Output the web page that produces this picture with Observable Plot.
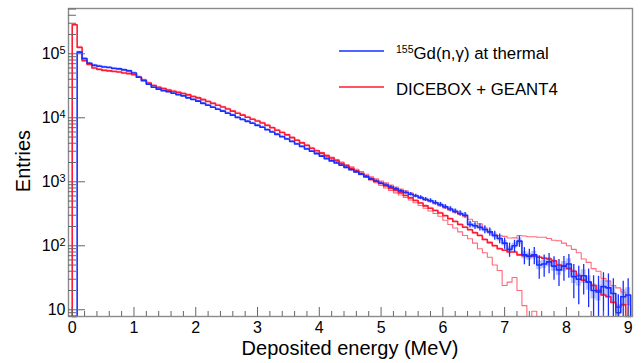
<!DOCTYPE html>
<html><head><meta charset="utf-8">
<script src="https://cdn.jsdelivr.net/npm/d3@7"></script>
<script src="https://cdn.jsdelivr.net/npm/@observablehq/plot@0.6"></script>
<style>html,body{margin:0;padding:0;background:#fff;} svg{display:block}</style>
</head><body><div id="chart"></div>
<script>
// Histogram binning (MeV)
const binWidth = 0.08;
const xDomain = [-0.06, 9.07];
const yDomain = [7.85, 5.1e5];

// 155Gd(n,gamma) at thermal (measured), one value per bin starting at 0 MeV
const blue = [
  0, 106000, 84000, 71000, 66000, 64000, 62000, 61000, 59000, 58000,
  56000, 54000, 50000, 43000, 38000, 33500, 30000, 28000, 26500, 25500,
  24200, 23000, 22000, 20500, 19300, 18200, 16800, 15700, 14600, 13600,
  12700, 11800, 11000, 10100, 9400, 8800, 8200, 7600, 7100, 6500,
  6000, 5500, 5050, 4650, 4250, 3900, 3550, 3250, 3000, 2750,
  2520, 2300, 2120, 1960, 1810, 1670, 1540, 1420, 1310, 1200,
  1100, 1020, 950, 890, 830, 775, 720, 680, 640, 600,
  565, 530, 505, 470, 440, 405, 375, 345, 320, 300,
  215, 205, 195, 180, 165, 145, 130, 110, 88, 100,
  118, 72, 68, 72, 50, 52, 56, 48, 42, 48,
  52, 33, 30, 34, 27, 20, 19, 23, 22, 18,
  9, 16, 17
];
// relative error bars of the measurement
const blueErr = [
  0, .01, .01, .01, .01, .01, .01, .01, .01, .01,
  .01, .01, .01, .01, .01, .01, .01, .01, .01, .01,
  .012, .012, .012, .012, .012, .012, .012, .012, .012, .012,
  .015, .015, .015, .015, .015, .015, .015, .015, .015, .015,
  .02, .02, .02, .02, .02, .02, .02, .02, .02, .02,
  .025, .025, .03, .03, .03, .035, .035, .035, .04, .04,
  .04, .045, .045, .05, .05, .05, .055, .06, .06, .065,
  .07, .07, .075, .08, .08, .085, .09, .09, .1, .1,
  .12, .12, .13, .14, .15, .16, .17, .2, .25, .22,
  .2, .3, .3, .3, .4, .38, .35, .4, .45, .42,
  .4, .55, .6, .5, .6, .7, .75, .65, .65, .7,
  .9, .75, .8
];
// relative systematic band (shaded boxes) of the measurement
const blueSys = [
  .04, .04, .04, .04, .04, .04, .04, .04, .04, .04,
  .04, .04, .04, .04, .04, .04, .04, .04, .04, .04,
  .04, .04, .04, .04, .04, .04, .04, .04, .04, .04,
  .04, .04, .04, .04, .04, .04, .04, .04, .04, .04,
  .04, .04, .04, .04, .04, .04, .04, .04, .04, .04,
  .04, .04, .04, .04, .045, .045, .045, .045, .045, .045,
  .05, .05, .05, .05, .05, .05, .05, .05, .05, .05,
  .06, .06, .06, .065, .065, .07, .07, .07, .075, .075,
  .08, .08, .085, .085, .09, .09, .09, .1, .1, .1,
  .12, .13, .13, .14, .15, .15, .16, .17, .18, .18,
  .2, .22, .22, .24, .25, .26, .28, .28, .3, .3,
  .35, .3, .3
];
// DICEBOX + GEANT4 simulation
const red = [
  284000, 126000, 78000, 68000, 60000, 57000, 55000, 54000, 53000, 52000,
  50000, 49000, 47000, 43000, 39000, 35000, 32000, 30000, 28500, 27000,
  26000, 25000, 24000, 22800, 21500, 20500, 19200, 18000, 16800, 15700,
  14700, 13700, 12700, 11800, 11000, 10200, 9500, 8900, 8300, 7600,
  7000, 6400, 5900, 5400, 4900, 4450, 4050, 3700, 3350, 3050,
  2800, 2550, 2350, 2150, 1950, 1780, 1620, 1480, 1350, 1230,
  1120, 1030, 940, 860, 790, 730, 670, 610, 560, 510,
  465, 420, 385, 355, 325, 295, 265, 240, 215, 195,
  178, 160, 145, 125, 112, 100, 90, 85, 80, 80,
  72, 70, 70, 69, 66, 64, 62, 58, 50, 48,
  44, 40, 34, 29, 27, 24, 20, 17, 16, 13,
  11, 12, 0
];
const redHalo = 0.04;
// simulation uncertainty envelope, starting at bin 50 (4.0 MeV)
const bandStartBin = 50;
const redUpper = [
  2850, 2620, 2420, 2230, 2040, 1860, 1720, 1570, 1440, 1310,
  1200, 1110, 1030, 960, 890, 830, 770, 720, 665, 615,
  570, 525, 490, 455, 420, 390, 360, 335, 310, 285,
  260, 240, 220, 190, 165, 150, 145, 140, 132, 133,
  145, 142, 138, 138, 136, 136, 130, 122, 120, 110,
  100, 88, 78, 62, 55, 44, 40, 31, 28, 24,
  22, 19, 12
];
const redLower = [
  2750, 2480, 2280, 2080, 1880, 1710, 1560, 1420, 1290, 1170,
  1060, 970, 880, 800, 730, 670, 620, 570, 520, 470,
  425, 385, 350, 320, 290, 250, 215, 190, 165, 145,
  129, 110, 90, 78, 66, 50, 41, 24, 27, 32,
  20, 11.6, 0, 9.5, 0, 0, 0, 0, 0, 0,
  0, 0, 0, 0, 0, 0, 0, 0, 0, 0,
  0, 0, 0
];

const xMajor = [0, 1, 2, 3, 4, 5, 6, 7, 8, 9];
const yMajor = [10, 100, 1000, 10000, 100000];
const xTitle = "Deposited energy (MeV)";
const yTitle = "Entries";
const legendItems = [
  {sup: "155", label: "Gd(n,γ) at thermal", color: "#1a2fff"},
  {sup: "", label: "DICEBOX + GEANT4", color: "#ff1a33"}
];

// ---------------------------------------------------------------
const floor = yDomain[0];
const cl = v => Math.max(v, floor);
function stepPts(values, start, dropStart) {
  const pts = [];
  if (dropStart) pts.push({x: start * binWidth, y: floor});
  values.forEach((v, k) => pts.push({x: (start + k) * binWidth, y: cl(v)}));
  const n = start + values.length;
  pts.push({x: n * binWidth, y: cl(values[values.length - 1])});
  pts.push({x: n * binWidth, y: floor});
  return pts;
}
const bins = blue.map((v, i) => ({
  x1: i * binWidth, x2: (i + 1) * binWidth, xc: (i + 0.5) * binWidth,
  v, lo: cl(v * (1 - blueErr[i])), hi: cl(v * (1 + blueErr[i])),
  slo: cl(v * (1 - blueSys[i])), shi: cl(v * (1 + blueSys[i])),
  r: red[i], rlo: cl(red[i] * (1 - redHalo)), rhi: cl(red[i] * (1 + redHalo))
}));
const xMinor = d3.range(0, 9.01, 0.2).filter(d => Math.abs(d - Math.round(d)) > 1e-6);
const yMinor = [];
for (let e = 0; e <= 5; e++) for (let m = 2; m <= 9; m++) {
  const v = m * Math.pow(10, e);
  if (v >= yDomain[0] && v <= yDomain[1] && !yMajor.includes(v)) yMinor.push(v);
}

const blueC = legendItems[0].color, redC = legendItems[1].color;
const plot = Plot.plot({
  width: 644, height: 363,
  marginLeft: 68, marginRight: 12, marginTop: 8, marginBottom: 47,
  style: {fontFamily: "'Liberation Sans', Arial, sans-serif", fontSize: "16px", background: "#fff", color: "#000", overflow: "visible"},
  x: {domain: xDomain},
  y: {type: "log", domain: yDomain},
  marks: [
    Plot.rect(bins.filter(d => d.r > 0), {x1: "x1", x2: "x2", y1: "rlo", y2: "rhi", fill: "#ff3050", fillOpacity: 0.3}),
    Plot.rect(bins.filter(d => d.v > 0), {x1: "x1", x2: "x2", y1: "slo", y2: "shi", fill: "#3050ff", fillOpacity: 0.35}),
    Plot.line(stepPts(redUpper, bandStartBin, false), {x: "x", y: "y", curve: "step-after", stroke: "#ff6a7a", strokeWidth: 1.1}),
    Plot.line(stepPts(redLower, bandStartBin, false), {x: "x", y: "y", curve: "step-after", stroke: "#ff6a7a", strokeWidth: 1.1}),
    Plot.line(stepPts(red, 0, true), {x: "x", y: "y", curve: "step-after", stroke: redC, strokeWidth: 1.6}),
    Plot.ruleX(bins.filter(d => d.v > 0), {x: "xc", y1: "lo", y2: "hi", stroke: blueC, strokeWidth: 1.3}),
    Plot.line(stepPts(blue, 0, true), {x: "x", y: "y", curve: "step-after", stroke: blueC, strokeWidth: 1.6}),
    Plot.frame({stroke: "#8a8a8a", strokeWidth: 1.4}),
    Plot.axisX({ticks: xMajor, tickSize: -9, tickPadding: 14, tickFormat: d => String(d), label: null, stroke: "#666"}),
    Plot.axisX({ticks: xMinor, tickSize: -5, tickFormat: () => "", label: null, stroke: "#666"}),
    Plot.axisY({ticks: yMajor, tickSize: -17, tickPadding: 20, label: null, stroke: "#666",
      tickFormat: d => { const k = Math.round(Math.log10(d)); return k === 1 ? "10" : "10^" + k; }}),
    Plot.axisY({ticks: yMinor, tickSize: -8, tickFormat: () => "", label: null, stroke: "#666"})
  ]
});
document.getElementById("chart").appendChild(plot);
const svg = d3.select(plot);
svg.attr("font-family", "'Liberation Sans', Arial, sans-serif");

// superscript exponents on y tick labels
svg.selectAll('g[aria-label="y-axis tick label"] text').each(function() {
  const t = d3.select(this);
  const s = t.text();
  if (s.includes("^")) {
    const [b, e] = s.split("^");
    t.text(null);
    t.append("tspan").text(b);
    t.append("tspan").attr("dy", "-0.45em").attr("font-size", "0.68em").text(e);
  }
});

// axis titles
svg.append("text").attr("x", 350).attr("y", 355).attr("text-anchor", "middle")
  .attr("font-size", 20).attr("fill", "#000").text(xTitle);
svg.append("text").attr("transform", "translate(30,161) rotate(-90)").attr("text-anchor", "middle")
  .attr("font-size", 20).attr("fill", "#000").text(yTitle);

// legend
const lg = svg.append("g").attr("text-anchor", "start");
legendItems.forEach((d, i) => {
  const y = 51 + i * 36;
  lg.append("line").attr("x1", 339).attr("x2", 384).attr("y1", y).attr("y2", y)
    .attr("stroke", d.color).attr("stroke-width", 1.6);
  const t = lg.append("text").attr("x", 396).attr("y", y + 8).attr("text-anchor", "start")
    .attr("font-size", 16.8).attr("fill", "#000");
  if (d.sup) t.append("tspan").attr("font-size", 10.5).attr("dy", -6).text(d.sup);
  t.append("tspan").attr("dy", d.sup ? 6 : 0).text(d.label);
});
</script>
</body></html>
